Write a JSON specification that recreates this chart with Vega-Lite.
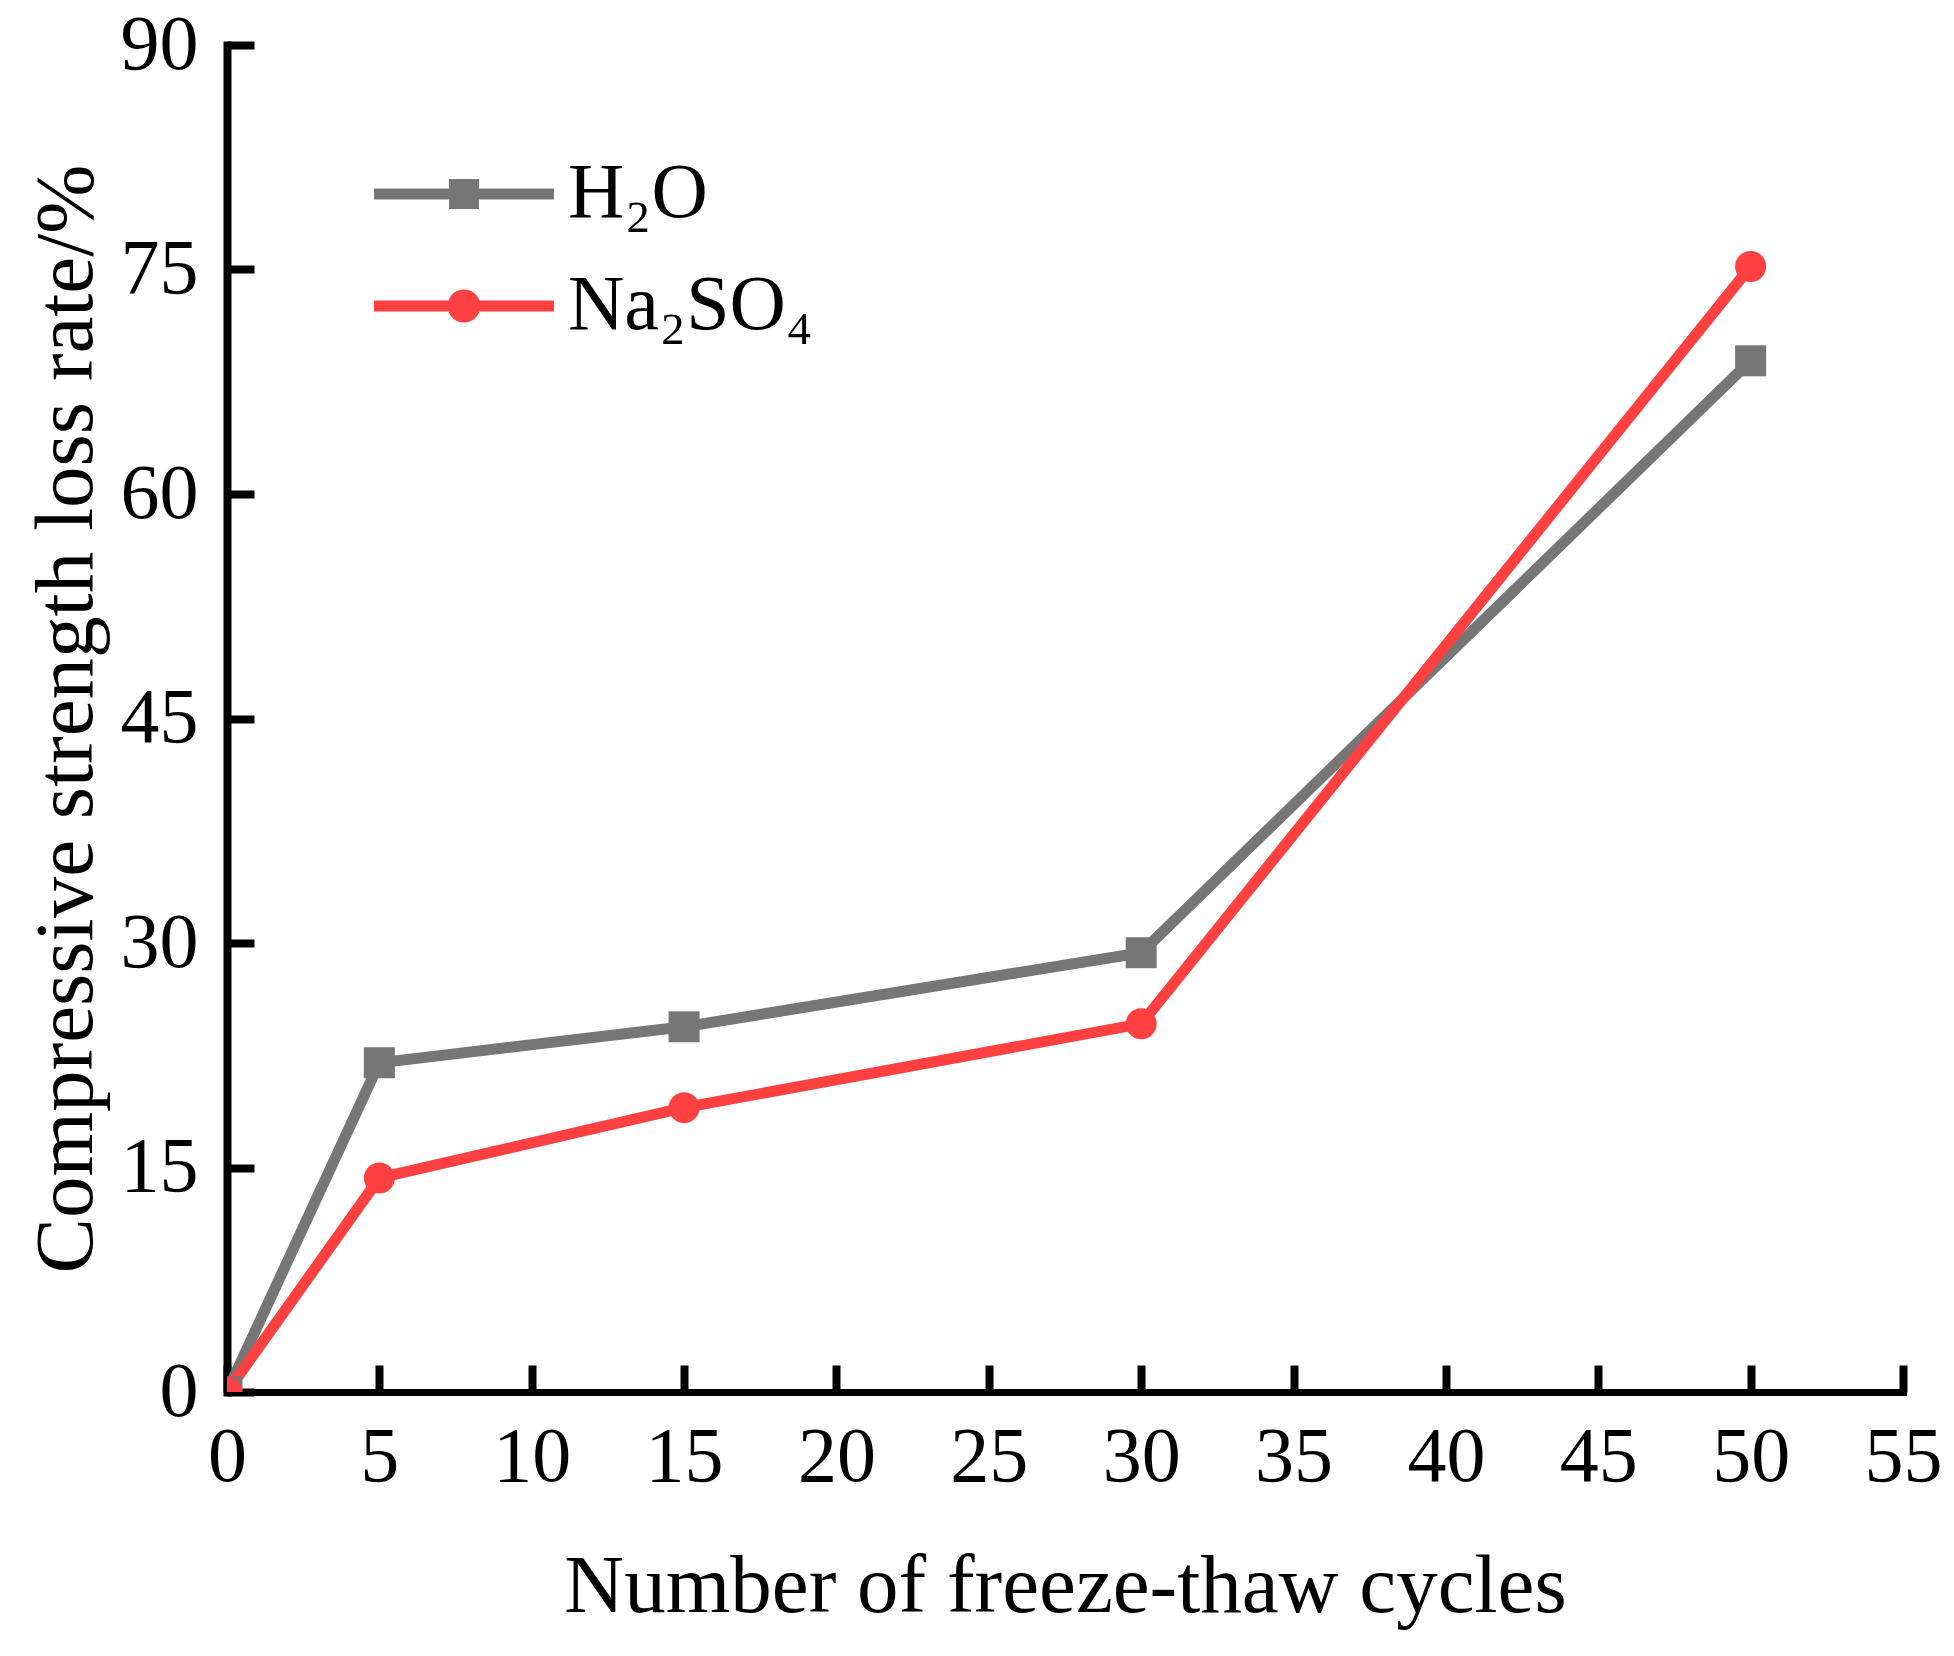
{
  "$schema": "https://vega.github.io/schema/vega-lite/v6.json",
  "width": 1676,
  "height": 1347,
  "autosize": "none",
  "padding": {"left": 227, "top": 45, "right": 51, "bottom": 264},
  "background": "white",
  "data": {
    "values": [
      {"cycles": 0, "rate": 0, "solution": "H₂O"},
      {"cycles": 5, "rate": 22.0, "solution": "H₂O"},
      {"cycles": 15, "rate": 24.4, "solution": "H₂O"},
      {"cycles": 30, "rate": 29.35, "solution": "H₂O"},
      {"cycles": 50, "rate": 68.9, "solution": "H₂O"},
      {"cycles": 0, "rate": 0, "solution": "Na₂SO₄"},
      {"cycles": 5, "rate": 14.3, "solution": "Na₂SO₄"},
      {"cycles": 15, "rate": 19.0, "solution": "Na₂SO₄"},
      {"cycles": 30, "rate": 24.6, "solution": "Na₂SO₄"},
      {"cycles": 50, "rate": 75.2, "solution": "Na₂SO₄"}
    ]
  },
  "encoding": {
    "x": {
      "field": "cycles",
      "type": "quantitative",
      "title": "Number of freeze-thaw cycles",
      "scale": {"domain": [0, 55], "nice": false},
      "axis": {
        "values": [0, 5, 10, 15, 20, 25, 30, 35, 40, 45, 50, 55],
        "domainWidth": 7,
        "tickWidth": 8,
        "tickSize": -27,
        "labelPadding": 53,
        "labelFlush": false,
        "titleBaseline": "alphabetic",
        "titleY": 219
      }
    },
    "y": {
      "field": "rate",
      "type": "quantitative",
      "title": "Compressive strength loss rate/%",
      "scale": {"domain": [0, 90], "nice": false},
      "axis": {
        "values": [0, 15, 30, 45, 60, 75, 90],
        "domainWidth": 8,
        "tickWidth": 8,
        "tickSize": -27,
        "labelPadding": 56,
        "labelFlush": false,
        "titleBaseline": "alphabetic",
        "titleX": -136
      }
    }
  },
  "layer": [
    {
      "mark": {"type": "line", "strokeWidth": 11, "clip": true, "strokeJoin": "miter"},
      "encoding": {
        "detail": {"field": "solution", "type": "nominal"},
        "color": {
          "condition": {"test": "datum.solution === 'H₂O'", "value": "#767676"},
          "value": "#ff4040"
        }
      }
    },
    {
      "mark": {"type": "point", "filled": true, "opacity": 1, "size": 960, "clip": true},
      "encoding": {
        "color": {
          "condition": {"test": "datum.solution === 'H₂O'", "value": "#767676"},
          "value": "#ff4040"
        },
        "shape": {
          "condition": {"test": "datum.solution === 'H₂O'", "value": "square"},
          "value": "circle"
        }
      }
    },
    {
      "transform": [{"filter": "datum.cycles < 0"}],
      "mark": {"type": "point", "filled": true, "opacity": 1, "size": 900},
      "encoding": {
        "color": {
          "field": "solution",
          "type": "nominal",
          "scale": {"domain": ["H₂O", "Na₂SO₄"], "range": ["#767676", "#ff4040"]},
          "legend": {
            "orient": "none",
            "legendX": 198,
            "legendY": 110,
            "title": null,
            "symbolSize": 900,
            "labelOffset": 65,
            "rowPadding": 34,
            "padding": 0,
            "labelLimit": 0,
            "symbolStrokeWidth": 0,
            "symbolOpacity": 1
          }
        },
        "shape": {
          "field": "solution",
          "type": "nominal",
          "scale": {
            "domain": ["H₂O", "Na₂SO₄"],
            "range": [
              "M-6,-0.36H6V0.36H-6Z M-1,-1H1V1H-1Z",
              "M-6,-0.36H6V0.36H-6Z M1.1,0A1.1,1.1 0 1,1 -1.1,0A1.1,1.1 0 1,1 1.1,0Z"
            ]
          },
          "legend": {
            "orient": "none",
            "legendX": 198,
            "legendY": 110,
            "title": null,
            "symbolSize": 900,
            "labelOffset": 65,
            "rowPadding": 34,
            "padding": 0,
            "labelLimit": 0,
            "symbolStrokeWidth": 0,
            "symbolOpacity": 1
          }
        }
      }
    }
  ],
  "config": {
    "view": {"stroke": null},
    "font": "Liberation Serif",
    "axis": {
      "grid": false,
      "domainColor": "#000000",
      "tickColor": "#000000",
      "labelColor": "#000000",
      "titleColor": "#000000",
      "labelFont": "Liberation Serif",
      "titleFont": "Liberation Serif",
      "labelFontSize": 78,
      "titleFontSize": 83,
      "titleFontWeight": "normal",
      "domainCap": "square"
    },
    "legend": {
      "labelFont": "Liberation Serif",
      "labelFontSize": 78,
      "labelColor": "#000000"
    }
  }
}
